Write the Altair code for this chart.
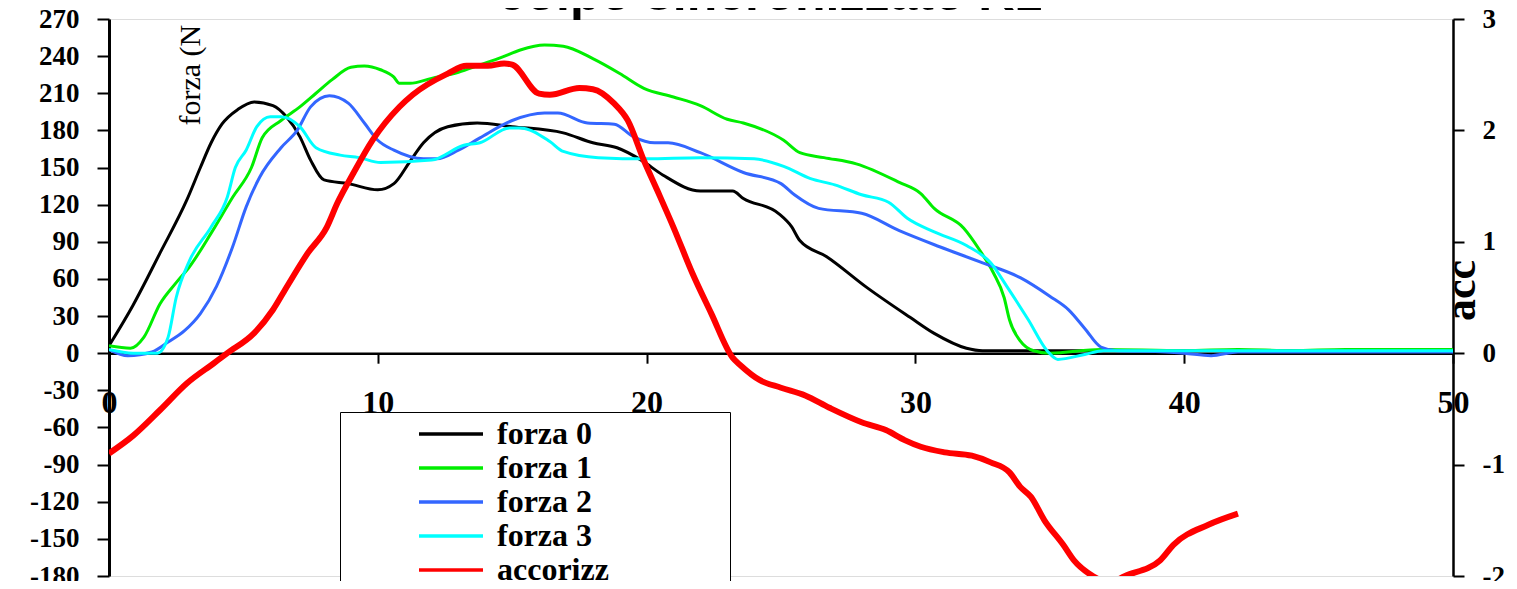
import altair as alt
import pandas as pd

# ---------------- data ----------------
series_names = ["forza 0", "forza 1", "forza 2", "forza 3", "accorizz"]
series_colors = ["#000000", "#00EE00", "#3366FF", "#00FFFF", "#FF0000"]

f0_x = [0, 0.9, 1.9, 2.9, 3.4, 3.8, 4.2, 4.8, 5.4, 6.1, 6.6, 7.1, 7.5, 8.0, 8.9, 10.0, 10.6, 11.2, 11.7,
        12.6, 13.7, 15.0, 16.9, 18.0, 18.9, 19.8, 20.6, 22.0, 23.2, 23.6, 24.9, 25.4, 25.7, 26.7, 28.2,
        29.8, 30.7, 31.9, 32.5, 35, 40, 45, 50]
f0_y = [6, 39, 81, 124, 150, 170, 185, 197, 203, 200, 191, 175, 156, 140, 137, 132, 137, 155, 170,
        183, 186, 183, 178, 170, 166, 156, 144, 131, 131, 125, 113, 102, 91, 78, 53,
        29, 16, 4, 2, 2, 2, 2, 2]

f1_x = [0, 0.8, 1.3, 1.9, 2.5, 3.0, 3.8, 4.6, 5.3, 5.7, 6.4, 7.1, 7.7, 8.3, 9.0, 9.5, 10.1, 10.6, 10.8,
        11.2, 12.0, 13.0, 13.8, 14.6, 15.3, 16.2, 16.9, 18.0, 19.0, 19.9, 21.0, 22.0, 23.0, 23.6, 25.1,
        25.7, 26.6, 27.8, 29.4, 30.2, 30.7, 31.8, 32.4, 32.9, 33.3, 33.5, 33.9, 34.4, 35.0, 36.9, 40,
        42, 44, 46, 50]
f1_y = [6, 4, 13, 40, 57, 70, 97, 126, 150, 174, 188, 199, 210, 221, 231, 232, 229, 223, 218,
        218, 222, 227, 233, 239, 245, 249, 248, 238, 226, 214, 207, 200, 189, 186, 172,
        162, 158, 153, 138, 129, 117, 101, 83, 65, 45, 27, 10, 2, 0, 3, 2,
        3, 2, 3, 3]

f2_x = [0, 0.7, 1.6, 2.2, 2.8, 3.4, 4.0, 4.6, 5.1, 5.6, 6.4, 7.0, 7.5, 8.2, 8.9, 9.5, 10.0, 10.6, 11.7,
        12.2, 13.0, 13.8, 15.0, 16.2, 16.7, 17.8, 18.8, 19.5, 20.3, 20.8, 22.0, 23.6, 25.0, 25.5, 26.4,
        28.0, 29.4, 30.9, 32.5, 33.9, 35.0, 35.7, 36.3, 36.9, 37.5, 39.3, 40.0, 41.0, 42.0, 44, 50]
f2_y = [3, -2, 1, 9, 18, 32, 54, 86, 118, 142, 166, 180, 199, 208, 202, 186, 172, 164, 157,
        157, 164, 174, 188, 194, 194, 186, 185, 175, 170, 170, 162, 146, 137, 128, 117,
        113, 99, 86, 73, 61, 46, 35, 20, 5, 2, 1, 0, -2, 1, 1, 1]

f3_x = [0, 0.9, 1.8, 2.2, 2.5, 3.0, 3.8, 4.4, 4.7, 5.1, 5.5, 6.0, 6.4, 7.1, 7.7, 8.6, 9.3, 10.1, 12.0,
        13.2, 13.8, 14.9, 15.3, 16.4, 16.9, 18.2, 20.0, 22.0, 24.0, 25.1, 26.1, 27.0, 28.0, 29.0, 29.7,
        30.7, 31.9, 32.8, 33.4, 34.2, 34.9, 35.3, 36.3, 37.0, 40, 45, 50]
f3_y = [3, 0, 0, 13, 45, 75, 102, 126, 150, 164, 183, 191, 191, 183, 166, 160, 158, 154, 156,
        168, 170, 182, 182, 171, 163, 158, 157, 158, 157, 151, 141, 136, 128, 122, 109,
        98, 87, 73, 54, 27, 2, -5, -1, 2, 2, 2, 2]

acc_x = [0, 0.9, 1.9, 2.9, 3.9, 4.4, 5.4, 6.1, 6.6, 7.4, 8.1, 8.5, 9.1, 9.8, 10.8, 11.3, 12.6, 13.3,
         14.1, 14.7, 15.0, 16.0, 16.4, 17.5, 18.0, 18.8, 19.3, 19.9, 20.4, 21.0, 21.7, 22.4, 23.2,
         23.5, 24.2, 25.0, 25.9, 26.8, 28.0, 28.9, 29.6, 30.2, 31.1, 32.1, 32.8, 33.5, 33.9, 34.3,
         34.8, 35.5, 35.9, 36.6, 37.2, 37.8, 39.1, 39.6, 40.9, 42.0]
acc_y = [-0.90, -0.74, -0.51, -0.27, -0.09, 0.0, 0.18, 0.39, 0.59, 0.90, 1.13, 1.35, 1.62, 1.91, 2.21,
         2.32, 2.51, 2.58, 2.58, 2.60, 2.59, 2.33, 2.32, 2.38, 2.37, 2.24, 2.09, 1.73, 1.46, 1.13,
         0.72, 0.36, -0.04, -0.11, -0.24, -0.31, -0.38, -0.49, -0.62, -0.69, -0.78, -0.84, -0.89,
         -0.92, -0.98, -1.07, -1.20, -1.29, -1.50, -1.72, -1.86, -2.0, -2.06, -2.0, -1.86, -1.72,
         -1.54, -1.44]

force_ticks = [-180, -150, -120, -90, -60, -30, 0, 30, 60, 90, 120, 150, 180, 210, 240, 270]
acc_ticks = [-2, -1, 0, 1, 2, 3]
x_ticks = [0, 10, 20, 30, 40, 50]

title_text = "colpo sincronizzato K1"
left_title = "forza (N"
right_title = "acc"

# ---------------- tables ----------------
rows = []
for name, xs, ys in zip(series_names[:4], [f0_x, f1_x, f2_x, f3_x], [f0_y, f1_y, f2_y, f3_y]):
    for xv, yv in zip(xs, ys):
        rows.append({"series": name, "x": xv, "y": yv})
force_df = pd.DataFrame(rows)
acc_df = pd.DataFrame({"series": series_names[4], "x": acc_x, "acc": acc_y})
title_df = pd.DataFrame({"t": [title_text]})

W, H = 1344, 557
serif = "Liberation Serif"
plain_label = "'' + datum.value"

color_scale = alt.Scale(domain=series_names, range=series_colors)
x_scale = alt.Scale(domain=[0, 50], nice=False, zero=False)

legend = alt.Legend(
    title="\u00a0", titleOrient="right", titleFontSize=1, titlePadding=117,
    orient="none", legendX=231, legendY=393, direction="vertical",
    symbolType="M-2,0H2", symbolSize=1024, symbolStrokeWidth=3.5,
    labelFont=serif, labelFontSize=32, labelFontWeight="bold", labelColor="black",
    labelLimit=600, fillColor="white", strokeColor="black", padding=4, rowPadding=0,
    symbolOffset=89, labelOffset=28,
)

x_axis = alt.Axis(
    values=x_ticks, title=None, grid=False, offset=-H * 180 / 450,
    domainColor="black", domainWidth=2.5, tickColor="black", tickWidth=2, tickSize=10,
    labelFont=serif, labelFontSize=32, labelFontWeight=700, labelColor="black",
    labelPadding=24, labelFlush=False, labelOverlap=False, labelExpr=plain_label,
)

force = alt.Chart(force_df).mark_line(strokeWidth=3, interpolate="monotone", clip=True).encode(
    x=alt.X("x:Q", scale=x_scale, axis=x_axis),
    y=alt.Y("y:Q", scale=alt.Scale(domain=[-180, 270], nice=False, zero=False),
            axis=alt.Axis(values=force_ticks, title=left_title, grid=False, orient="left",
                          domainColor="black", domainWidth=3, tickColor="black", tickWidth=2,
                          tickSize=12, labelFont=serif, labelFontSize=27, labelFontWeight=700,
                          labelColor="black", labelPadding=18, labelFlush=False, labelOverlap=False,
                          labelExpr=plain_label,
                          titleFont=serif, titleFontSize=30, titleFontWeight="normal",
                          titleColor="black", titleAngle=270, titleAlign="left",
                          titleBaseline="middle", titleX=81, titleY=106)),
    color=alt.Color("series:N", scale=color_scale, legend=legend),
)

acc = alt.Chart(acc_df).mark_line(strokeWidth=6, interpolate="monotone", clip=True).encode(
    x=alt.X("x:Q", scale=x_scale),
    y=alt.Y("acc:Q", scale=alt.Scale(domain=[-2, 3], nice=False, zero=False),
            axis=alt.Axis(values=acc_ticks, title=right_title, grid=False, orient="right",
                          domainColor="black", domainWidth=2.5, tickColor="black", tickWidth=2,
                          tickSize=11, labelFont=serif, labelFontSize=27, labelFontWeight=700,
                          labelColor="black", labelPadding=18, labelFlush=False, labelOverlap=False,
                          labelExpr=plain_label,
                          titleFont=serif, titleFontSize=44, titleFontWeight="bold",
                          titleColor="black", titleAngle=270, titleAlign="center",
                          titleBaseline="middle", titleX=8, titleY=271)),
    color=alt.Color("series:N", scale=color_scale, legend=legend),
)

# chart title (cut off by the top edge, as in the reference)
title_mark = alt.Chart(title_df).mark_text(
    font="Liberation Sans", fontSize=50, fontWeight="bold", color="black",
    align="center", baseline="alphabetic",
).encode(text="t:N", x=alt.value(W / 2 - 11), y=alt.value(-9))

chart = alt.layer(force, acc, title_mark).resolve_scale(y="independent").properties(
    width=W, height=H,
    padding={"left": 101, "top": 11, "right": 56, "bottom": 5},
    autosize=alt.AutoSizeParams(type="none"),
).configure_view(stroke="black", strokeWidth=2).configure_axis(
    labelFont=serif, labelFontWeight=700, labelColor="black"
).configure_legend(strokeWidth=2).configure(background="white")

chart.save("out.html", embed_options={"renderer": "svg", "actions": False})
